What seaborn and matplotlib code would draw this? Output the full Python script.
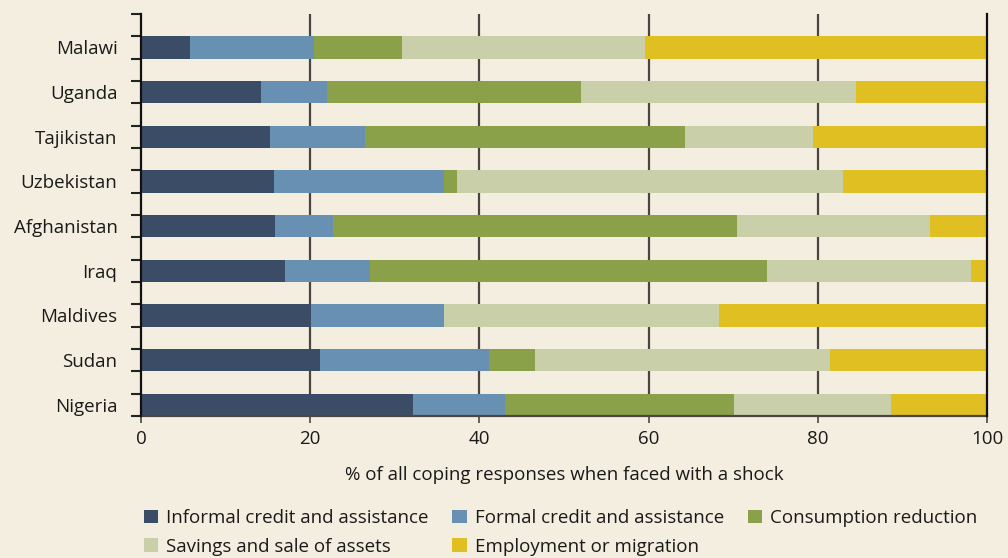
import pandas as pd
import matplotlib
matplotlib.use("Agg")
import matplotlib.pyplot as plt
import seaborn as sns
from matplotlib.patches import Patch

paises = ["Malawi", "Uganda", "Tajikistan", "Uzbekistan", "Afghanistan",
          "Iraq", "Maldives", "Sudan", "Nigeria"]
informal = [5.8, 14.2, 15.2, 15.7, 15.8, 17.0, 20.1, 21.2, 32.2]
formal = [14.6, 7.8, 11.3, 20.1, 6.9, 10.1, 15.7, 19.9, 10.8]
consumo = [10.5, 30.0, 37.8, 1.6, 47.7, 46.9, 0.0, 5.5, 27.1]
poupanca = [28.7, 32.5, 15.1, 45.6, 22.9, 24.1, 32.5, 34.8, 18.6]
emprego = [40.4, 15.5, 20.6, 17.0, 6.7, 1.9, 31.7, 18.6, 11.3]

categorias = ["Informal credit and assistance", "Formal credit and assistance",
              "Consumption reduction", "Savings and sale of assets",
              "Employment or migration"]
cores = ["#3b4d66", "#6890b2", "#8aa149", "#c9d0a9", "#dfbf22"]

fundo = "#f3eedf"
texto = "#1a1a1a"
fs = 13.5

df = pd.DataFrame({"Pais": paises, categorias[0]: informal, categorias[1]: formal,
                   categorias[2]: consumo, categorias[3]: poupanca,
                   categorias[4]: emprego})
# somas acumuladas para empilhar as barras
acum = df[categorias].cumsum(axis=1)

plt.rcParams["font.family"] = ["Open Sans", "DejaVu Sans"]
plt.rcParams["text.color"] = texto
plt.rcParams["axes.labelcolor"] = texto
plt.rcParams["xtick.color"] = texto
plt.rcParams["ytick.color"] = texto

fig = plt.figure(figsize=(10.08, 5.58), dpi=100, facecolor=fundo)
ax = fig.add_axes([141 / 1008, 1 - 416 / 558, 846 / 1008, 402 / 558])
ax.set_facecolor(fundo)

# desenha do fim para o inicio, cada barra cobre a anterior
for cat, cor in reversed(list(zip(categorias, cores))):
    sns.barplot(x=acum[cat], y=df["Pais"], orient="h", color=cor,
                width=0.5, saturation=1, ax=ax, zorder=2)

ax.set_xlim(0, 100)
ax.set_ylim(8.25, -0.75)
ax.set_xticks([0, 20, 40, 60, 80, 100])
ax.set_xlabel("% of all coping responses when faced with a shock",
              fontsize=fs, labelpad=13)
ax.set_ylabel("")

for v in [20, 40, 60, 80]:
    ax.axvline(v, color="#4a4540", linewidth=1.6, zorder=1)

ax.set_yticks(range(len(paises)))
ax.set_yticklabels(paises)
ax.set_yticks([i * 0.5 - 0.75 for i in range(19)], minor=True)
ax.tick_params(axis="y", which="major", length=0, pad=17, labelsize=fs)
ax.tick_params(axis="y", which="minor", length=7, width=1.5, color="#222222")
ax.tick_params(axis="x", which="major", length=5, width=1.2, color="#4a4540",
               labelsize=fs, pad=5)

ax.spines["top"].set_visible(False)
ax.spines["left"].set_color("#111111")
ax.spines["left"].set_linewidth(1.6)
ax.spines["right"].set_color("#111111")
ax.spines["right"].set_linewidth(1.6)
ax.spines["bottom"].set_color("#4a4540")
ax.spines["bottom"].set_linewidth(1.6)
ax.spines["left"].set_zorder(3)
ax.spines["right"].set_zorder(3)

ordem = [0, 3, 1, 4, 2]
handles = [Patch(facecolor=cores[i], edgecolor="none") for i in ordem]
labels = [categorias[i] for i in ordem]
fig.legend(handles, labels, ncol=3, loc="upper left",
           bbox_to_anchor=(144 / 1008, 1 - 509 / 558), frameon=False,
           fontsize=fs, handlelength=0.75, handleheight=0.75,
           handletextpad=0.45, columnspacing=1.25, labelspacing=0.58,
           borderaxespad=0, borderpad=0)

fig.savefig("out.png", dpi=100, facecolor=fundo)
